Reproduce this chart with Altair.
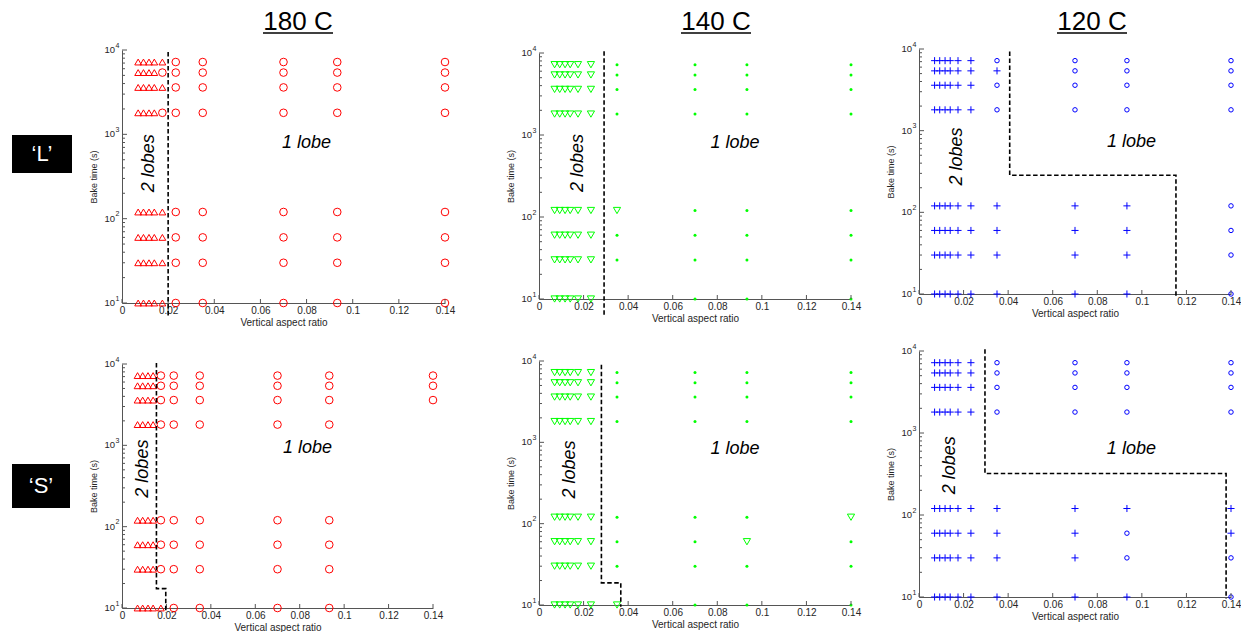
import altair as alt
import pandas as pd

# ---------------- data ----------------
ASPECT_RATIOS = [0.007, 0.0093, 0.0117, 0.014, 0.0175, 0.0233, 0.035, 0.07, 0.0933, 0.14]
BAKE_TIMES = [7200, 5400, 3600, 1800, 120, 60, 30, 10]

# lobe count per bake-time row (BAKE_TIMES order) and aspect-ratio column; '-' = no sample
LOBES_180_L = ["2222211111", "2222111111", "2222211111", "2222111111",
               "2222211111", "2222211111", "2222211111", "2222211111"]
LOBES_180_S = ["2222111111", "2222111111", "2222111111", "222211111-",
               "222211111-", "222211111-", "222211111-", "222221111-"]
LOBES_140_L = ["2222221111", "2222221111", "2222221111", "2222221111",
               "2222222111", "2222221111", "2222221111", "222222-111"]
LOBES_140_S = ["2222221111", "2222221111", "2222221111", "2222221111",
               "2222221112", "2222221121", "2222221111", "2222222111"]
LOBES_120_L = ["2222221111", "2222222111", "2222221111", "2222221111",
               "2222222221", "2222222221", "2222222221", "2222222221"]
LOBES_120_S = ["2222221111", "2222221111", "2222221111", "2222221111",
               "2222222222", "2222222212", "2222222211", "2222222221"]

# dashed boundaries (vertex lists)
BOUND_180_L_X = [0.02, 0.02]
BOUND_180_L_Y = [9500, 7.0]
BOUND_180_S_X = [0.0155, 0.0155, 0.0197, 0.0197]
BOUND_180_S_Y = [10300, 17.3, 17.3, 8.7]
BOUND_140_L_X = [0.0292, 0.0292]
BOUND_140_L_Y = [10500, 6.0]
BOUND_140_S_X = [0.028, 0.028, 0.0367, 0.0367]
BOUND_140_S_Y = [9000, 18.7, 18.7, 9.5]
BOUND_120_L_X = [0.0407, 0.0407, 0.1153, 0.1153]
BOUND_120_L_Y = [9300, 285, 285, 9.4]
BOUND_120_S_X = [0.0296, 0.0296, 0.1378, 0.1378]
BOUND_120_S_Y = [10500, 321, 321, 9.5]

# region annotations, panel order: 180L, 180S, 140L, 140S, 120L, 120S
TWO_LOBES_X = [0.0118, 0.0093, 0.0175, 0.0138, 0.0171, 0.0139]
TWO_LOBES_Y = [455, 517, 456, 464, 482, 405]
ONE_LOBE_X = [0.080, 0.0835, 0.0879, 0.0879, 0.0954, 0.0953]
ONE_LOBE_Y = [785, 927, 798, 830, 736, 630]

COLUMN_TITLES = ["180 C", "140 C", "120 C"]
ROW_LABELS = ["\u2018L\u2019", "\u2018S\u2019"]

X_TICKS = [0, 0.02, 0.04, 0.06, 0.08, 0.1, 0.12, 0.14]
Y_MAJOR = [10, 100, 1000, 10000]
Y_EXP = ["1", "2", "3", "4"]
Y_MINOR = [20, 30, 40, 50, 60, 70, 80, 90,
           200, 300, 400, 500, 600, 700, 800, 900,
           2000, 3000, 4000, 5000, 6000, 7000, 8000, 9000]

# ---------------- styling ----------------
FONT = "Liberation Sans"
AXIS_GREY = "#555555"
LABEL_GREY = "#262626"
PLUS = "M-1,0L1,0M0,-1L0,1"

STYLE = {
    "180": {"color": "#ff0000", "two": ("triangle-up", 46, False), "one": ("circle", 58, False)},
    "140": {"color": "#00ff00", "two": ("triangle-down", 52, False), "one": ("circle", 9, True)},
    "120": {"color": "#0000ff", "two": (PLUS, 50, False), "one": ("circle", 20, False)},
}


def lobe_frame(grid):
    rows = []
    for t, row in zip(BAKE_TIMES, grid):
        for r, c in zip(ASPECT_RATIOS, row):
            if c != "-":
                rows.append({"ratio": r, "time": t, "lobes": int(c)})
    return pd.DataFrame(rows)


def panel(temp, grid, bx, by, idx, w, h, top, title=None, title_x=None):
    xs = alt.Scale(domain=[0, 0.14], nice=False, zero=False)
    ys = alt.Scale(type="log", domain=[10, 10000], nice=False, range=[h, top])
    x_axis = alt.Axis(values=X_TICKS, format="~g", ticks=False, tickSize=0, grid=False,
                      domainColor=AXIS_GREY, domainWidth=1, labelFont=FONT, labelFontSize=10,
                      labelColor=LABEL_GREY, labelPadding=2, labelFlush=False,
                      title="Vertical aspect ratio", titleFont=FONT, titleFontSize=10,
                      titleFontWeight="normal", titleColor=LABEL_GREY, titlePadding=2)
    y_axis = alt.Axis(labels=False, ticks=False, tickSize=0, grid=False, domainColor=AXIS_GREY,
                      domainWidth=1, minExtent=0, maxExtent=0,
                      title="Bake time (s)", titleFont=FONT, titleFontSize=9,
                      titleFontWeight="normal", titleColor=LABEL_GREY, titlePadding=24)
    X = alt.X("ratio:Q", scale=xs, axis=x_axis)
    Y = alt.Y("time:Q", scale=ys, axis=y_axis)

    st = STYLE[temp]
    df = lobe_frame(grid)
    layers = []
    s2, z2, f2 = st["two"]
    s1, z1, f1 = st["one"]
    layers.append(alt.Chart(df).transform_filter("datum.lobes == 2").mark_point(
        shape=s2, size=z2, filled=f2, color=st["color"], strokeWidth=1, opacity=1, clip=False
    ).encode(x=X, y=Y))
    layers.append(alt.Chart(df).transform_filter("datum.lobes == 1").mark_point(
        shape=s1, size=z1, filled=f1, color=st["color"], strokeWidth=1, opacity=1, clip=False
    ).encode(x=X, y=Y))

    # inward ticks
    layers.append(alt.Chart(pd.DataFrame({"ratio": X_TICKS})).mark_rule(color=AXIS_GREY, strokeWidth=1).encode(
        x=X, y=alt.value(h), y2=alt.value(h - 4)))
    layers.append(alt.Chart(pd.DataFrame({"time": Y_MAJOR})).mark_rule(color=AXIS_GREY, strokeWidth=1).encode(
        y=Y, x=alt.value(0), x2=alt.value(5)))
    layers.append(alt.Chart(pd.DataFrame({"time": Y_MINOR})).mark_rule(color=AXIS_GREY, strokeWidth=1).encode(
        y=Y, x=alt.value(0), x2=alt.value(3)))
    # y tick labels 10^n
    ylab = pd.DataFrame({"time": Y_MAJOR, "exp": Y_EXP})
    layers.append(alt.Chart(ylab).mark_text(align="right", baseline="middle", fontSize=9.5, font=FONT,
                                            color=LABEL_GREY).encode(
        y=Y, x=alt.value(-7), text=alt.value("10")))
    layers.append(alt.Chart(ylab).mark_text(align="left", baseline="middle", fontSize=7, font=FONT,
                                            color=LABEL_GREY, dy=-4.5).encode(
        y=Y, x=alt.value(-6.5), text="exp:N"))

    # boundary
    bd = pd.DataFrame({"ratio": bx, "time": by, "order": list(range(len(bx)))})
    layers.append(alt.Chart(bd).mark_line(color="black", strokeDash=[4.5, 2.5], strokeWidth=1.6, clip=False).encode(
        x=X, y=Y, order="order:Q"))

    # annotations
    t2 = pd.DataFrame({"ratio": [TWO_LOBES_X[idx]], "time": [TWO_LOBES_Y[idx]], "label": ["2 lobes"]})
    t1 = pd.DataFrame({"ratio": [ONE_LOBE_X[idx]], "time": [ONE_LOBE_Y[idx]], "label": ["1 lobe"]})
    layers.append(alt.Chart(t2).mark_text(angle=270, fontStyle="italic", fontSize=18, font=FONT,
                                          color="black", align="center", baseline="middle").encode(
        x=X, y=Y, text="label:N"))
    layers.append(alt.Chart(t1).mark_text(fontStyle="italic", fontSize=18, font=FONT,
                                          color="black", align="center", baseline="middle").encode(
        x=X, y=Y, text="label:N"))

    if title is not None:
        td = pd.DataFrame({"title": [title]})
        layers.append(alt.Chart(td).mark_text(fontSize=26, font=FONT, color="black", align="center",
                                              baseline="alphabetic").encode(
            text="title:N", x=alt.value(title_x), y=alt.value(-19)))
        layers.append(alt.Chart(td).mark_rule(color="black", strokeWidth=1.5).encode(
            x=alt.value(title_x - 35), x2=alt.value(title_x + 35), y=alt.value(-16)))

    return alt.layer(*layers).properties(width=w, height=h)


def row_label(text, y0, y1, x1, ty, h, anchor=False):
    d = pd.DataFrame({"label": [text]})
    layers = []
    if anchor:
        layers.append(alt.Chart(d).mark_rect(opacity=0).encode(
            x=alt.value(-5), x2=alt.value(0), y=alt.value(-49), y2=alt.value(-48)))
    layers.append(alt.Chart(d).mark_rect(color="black").encode(
        x=alt.value(7), x2=alt.value(x1), y=alt.value(y0), y2=alt.value(y1)))
    layers.append(alt.Chart(d).mark_text(color="white", fontSize=22, font=FONT, align="center",
                                         baseline="middle").encode(
        text="label:N", x=alt.value((7 + x1) / 2), y=alt.value(ty)))
    return alt.layer(*layers).properties(width=87, height=h)


def spacer(w):
    return alt.Chart(pd.DataFrame({"a": [0]})).mark_point(opacity=0).encode(
        x=alt.value(0), y=alt.value(0)).properties(width=w, height=10)


# row 1 top at y=49, row 2 top at y=351 (page pixels)
p1 = panel("180", LOBES_180_L, BOUND_180_L_X, BOUND_180_L_Y, 0, 323, 254, 1, COLUMN_TITLES[0], 176)
p3 = panel("140", LOBES_140_L, BOUND_140_L_X, BOUND_140_L_Y, 2, 312, 250, 4, COLUMN_TITLES[1], 177)
p5 = panel("120", LOBES_120_L, BOUND_120_L_X, BOUND_120_L_Y, 4, 312, 245, 0, COLUMN_TITLES[2], 173)
p2 = panel("180", LOBES_180_S, BOUND_180_S_X, BOUND_180_S_Y, 1, 311, 257, 13)
p4 = panel("140", LOBES_140_S, BOUND_140_S_X, BOUND_140_S_Y, 3, 312, 254, 10)
p6 = panel("120", LOBES_120_S, BOUND_120_S_X, BOUND_120_S_Y, 5, 312, 246, 0)

lab_l = row_label(ROW_LABELS[0], 86, 124, 67, 105, 200, anchor=True)
lab_s = row_label(ROW_LABELS[1], 113, 157, 65, 135, 200)

chart = alt.concat(
    lab_l, p1, spacer(34), p3, spacer(8), p5,
    lab_s, p2, spacer(34), p4, spacer(8), p6,
    columns=6, spacing={"row": 48, "column": 30}, bounds="flush", align="each",
).properties(padding=0).configure_view(strokeWidth=0)

chart.save("out.html", embed_options={"renderer": "svg", "actions": False})
